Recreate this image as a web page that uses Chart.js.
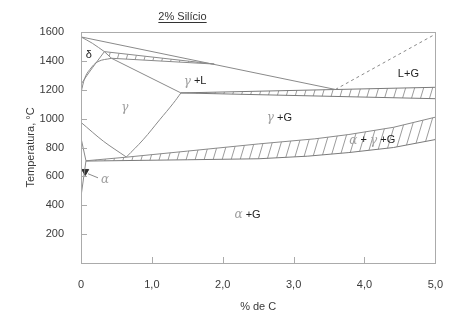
<!DOCTYPE html>
<html>
<head>
<meta charset="utf-8">
<script src="https://cdn.jsdelivr.net/npm/chart.js@4.4.0/dist/chart.umd.min.js"></script>
<style>
  html, body { margin: 0; padding: 0; background: #fff; }
  #wrap { width: 450px; height: 323px; }
</style>
</head>
<body>
<div id="wrap"><canvas id="diagram" width="450" height="323"></canvas></div>
<script>
// eixos
const xTicks = [0, 1, 2, 3, 4, 5];
const xTickLabels = ['0', '1,0', '2,0', '3,0', '4,0', '5,0'];
const yTicks = [200, 400, 600, 800, 1000, 1200, 1400, 1600];
const yTickLabels = ['200', '400', '600', '800', '1000', '1200', '1400', '1600'];

// linhas do diagrama (% C, °C)
const liquidusC = [0, 3.59];
const liquidusT = [1566, 1202];
const dashedC = [3.59, 5.0];
const dashedT = [1202, 1585];
const deltaLiqC = [0, 0.16, 0.33];
const deltaLiqT = [1566, 1522, 1464];
const deltaSolvC = [0.33, 0.197, 0.08, 0];
const deltaSolvT = [1464, 1376, 1296, 1237];
const gammaTopC = [0.43, 0.24, 0.126, 0.056, 0];
const gammaTopT = [1418, 1395, 1341, 1284, 1180];
const periLinkC = [0.33, 0.43];
const periLinkT = [1464, 1418];
const solidusC = [0.43, 1.41];
const solidusT = [1418, 1178];
const a3C = [0, 0.32, 0.64];
const a3T = [974, 842, 734];
const acmC = [0.64, 0.875, 1.11, 1.30, 1.41];
const acmT = [734, 853, 992, 1105, 1178];
const alphaC = [0, 0.07, 0];
const alphaT = [866, 708, 460];

// faixas tracejadas (superior / inferior)
const periTopC = [0.33, 1.88];
const periTopT = [1464, 1378];
const periBotC = [0.43, 1.88];
const periBotT = [1418, 1378];
const eutTopC = [1.41, 5.0];
const eutTopT = [1178, 1217];
const eutBotC = [1.41, 5.0];
const eutBotT = [1178, 1138];
const eudTopC = [0.07, 0.64, 1.5, 2.51, 3.3, 3.78, 4.41, 5.0];
const eudTopT = [708, 733, 775, 825, 860, 890, 940, 1010];
const eudBotC = [0.07, 1.5, 2.51, 3.2, 3.78, 4.41, 5.0];
const eudBotT = [706, 715, 722, 740, 765, 800, 855];

// marcador e rótulos
const markerC = [0.06];
const markerT = [634];
const leaderC = [0.1, 0.24];
const leaderT = [618, 590];
const labelText = ['δ', 'γ +L', 'γ', 'L+G', 'γ +G', 'α + γ +G', 'α', 'α +G'];
const labelC = [0.11, 1.61, 0.62, 4.62, 2.8, 4.11, 0.34, 2.35];
const labelT = [1441, 1258, 1074, 1310, 1004, 849, 576, 333];

const FONT = '"Liberation Sans", Arial, sans-serif';
const LINE_COLOR = '#8a8a8a';
Chart.defaults.font.family = FONT;
Chart.defaults.font.size = 11;
Chart.defaults.color = '#3a3a3a';

function pts(xs, ys) {
    return xs.map((x, i) => ({ x: x, y: ys[i] }));
}

function line(xs, ys, extra) {
    return Object.assign({
        data: pts(xs, ys),
        showLine: true,
        borderColor: LINE_COLOR,
        borderWidth: 1,
        pointRadius: 0,
        tension: 0,
        fill: false
    }, extra || {});
}

const datasets = [
    line(liquidusC, liquidusT),
    line(dashedC, dashedT, { borderDash: [3, 3] }),
    line(deltaLiqC, deltaLiqT, { tension: 0.3 }),
    line(deltaSolvC, deltaSolvT, { tension: 0.4 }),
    line(gammaTopC, gammaTopT, { tension: 0.4 }),
    line(periLinkC, periLinkT),
    line(solidusC, solidusT),
    line(a3C, a3T, { tension: 0.3 }),
    line(acmC, acmT, { tension: 0.4 }),
    line(alphaC, alphaT),
    line(periTopC, periTopT),
    line(periBotC, periBotT),
    line(eutTopC, eutTopT, { borderColor: '#7a7a7a' }),
    line(eutBotC, eutBotT, { borderColor: '#7a7a7a' }),
    line(eudTopC, eudTopT),
    line(eudBotC, eudBotT, { borderColor: '#7a7a7a' }),
    line(leaderC, leaderT),
    {
        data: pts(markerC, markerT),
        showLine: false,
        pointStyle: 'triangle',
        rotation: 180,
        pointRadius: 4,
        backgroundColor: '#333',
        borderColor: '#333'
    }
];

const bands = [
    { top: [periTopC, periTopT], bottom: [periBotC, periBotT] },
    { top: [eutTopC, eutTopT], bottom: [eutBotC, eutBotT] },
    { top: [eudTopC, eudTopT], bottom: [eudBotC, eudBotT] }
];

// padrão de hachura "/"
function makeHatch(ctx) {
    const c = document.createElement('canvas');
    const w = 9, h = 30;
    c.width = w; c.height = h;
    const g = c.getContext('2d');
    g.strokeStyle = '#9c9c9c';
    g.lineWidth = 1;
    g.beginPath();
    for (let k = -1; k <= 1; k++) {
        g.moveTo(k * w, h);
        g.lineTo(k * w + w, 0);
    }
    g.stroke();
    return ctx.createPattern(c, 'repeat');
}

function drawLabel(ctx, text, x, y) {
    const parts = text.split('').map(ch => {
        const greek = /[αγ]/.test(ch);
        return {
            ch: ch,
            font: greek ? 'italic 12px "DejaVu Serif", serif' : '11px ' + FONT,
            color: greek ? '#a0a0a0' : '#222'
        };
    });
    let total = 0;
    parts.forEach(p => { ctx.font = p.font; p.w = ctx.measureText(p.ch).width; total += p.w; });
    let cx = x - total / 2;
    ctx.textBaseline = 'middle';
    ctx.textAlign = 'left';
    parts.forEach(p => {
        ctx.font = p.font;
        ctx.fillStyle = p.color;
        ctx.fillText(p.ch, cx, y);
        cx += p.w;
    });
}

const diagramPlugin = {
    id: 'diagram',
    beforeDatasetsDraw(chart) {
        const { ctx, chartArea, scales: { x, y } } = chart;
        if (!this.hatch) this.hatch = makeHatch(ctx);
        ctx.save();
        ctx.beginPath();
        ctx.rect(chartArea.left, chartArea.top, chartArea.right - chartArea.left, chartArea.bottom - chartArea.top);
        ctx.clip();
        ctx.fillStyle = this.hatch;
        bands.forEach(b => {
            const top = pts(b.top[0], b.top[1]);
            const bot = pts(b.bottom[0], b.bottom[1]).reverse();
            ctx.beginPath();
            top.concat(bot).forEach((p, i) => {
                const px = x.getPixelForValue(p.x), py = y.getPixelForValue(p.y);
                if (i === 0) ctx.moveTo(px, py); else ctx.lineTo(px, py);
            });
            ctx.closePath();
            ctx.fill();
        });
        ctx.restore();
    },
    afterDraw(chart) {
        const { ctx, chartArea, scales: { x, y } } = chart;
        ctx.save();
        // moldura
        ctx.strokeStyle = '#ababab';
        ctx.lineWidth = 1;
        ctx.strokeRect(Math.round(chartArea.left) + 0.5, Math.round(chartArea.top) + 0.5,
            Math.round(chartArea.right - chartArea.left), Math.round(chartArea.bottom - chartArea.top));

        // marcas internas
        ctx.beginPath();
        xTicks.slice(1, -1).forEach(v => {
            const px = Math.round(x.getPixelForValue(v)) + 0.5;
            ctx.moveTo(px, chartArea.bottom);
            ctx.lineTo(px, chartArea.bottom - 6);
        });
        yTicks.slice(0, -1).forEach(v => {
            const py = Math.round(y.getPixelForValue(v)) + 0.5;
            ctx.moveTo(chartArea.left, py);
            ctx.lineTo(chartArea.left + 6, py);
        });
        ctx.stroke();

        // rótulos das regiões
        labelText.forEach((t, i) => {
            drawLabel(ctx, t, x.getPixelForValue(labelC[i]), y.getPixelForValue(labelT[i]));
        });

        // título sublinhado
        const title = '2% Silício';
        ctx.font = '11px ' + FONT;
        ctx.fillStyle = '#333';
        ctx.textAlign = 'center';
        ctx.textBaseline = 'middle';
        const tx = 182.5, ty = 16.5;
        ctx.fillText(title, tx, ty);
        const tw = ctx.measureText(title).width;
        ctx.strokeStyle = '#333';
        ctx.beginPath();
        ctx.moveTo(tx - tw / 2, 22.5);
        ctx.lineTo(tx + tw / 2, 22.5);
        ctx.stroke();
        ctx.restore();
    }
};

new Chart(document.getElementById('diagram').getContext('2d'), {
    type: 'scatter',
    data: { datasets: datasets },
    options: {
        responsive: false,
        animation: false,
        layout: { padding: { top: 32, right: 13, left: 0, bottom: 0 } },
        plugins: {
            legend: { display: false },
            tooltip: { enabled: false },
            title: { display: false }
        },
        scales: {
            x: {
                type: 'linear',
                min: 0,
                max: 5,
                afterBuildTicks: s => { s.ticks = xTicks.map(v => ({ value: v })); },
                afterFit: s => { s.height = 60; },
                grid: { display: false },
                border: { display: false },
                ticks: {
                    padding: 7,
                    maxRotation: 0,
                    autoSkip: false,
                    callback: (v, i) => xTickLabels[i]
                },
                title: { display: true, text: '% de C', padding: { top: 0, bottom: 9 } }
            },
            y: {
                type: 'linear',
                min: 0,
                max: 1600,
                afterBuildTicks: s => { s.ticks = yTicks.map(v => ({ value: v })); },
                afterFit: s => { s.width = 81; },
                grid: { display: false },
                border: { display: false },
                ticks: {
                    padding: 9,
                    autoSkip: false,
                    callback: (v, i) => yTickLabels[i]
                },
                title: { display: true, text: 'Temperatura, °C', padding: { top: 24, bottom: 0 } }
            }
        }
    },
    plugins: [diagramPlugin]
});
</script>
</body>
</html>
